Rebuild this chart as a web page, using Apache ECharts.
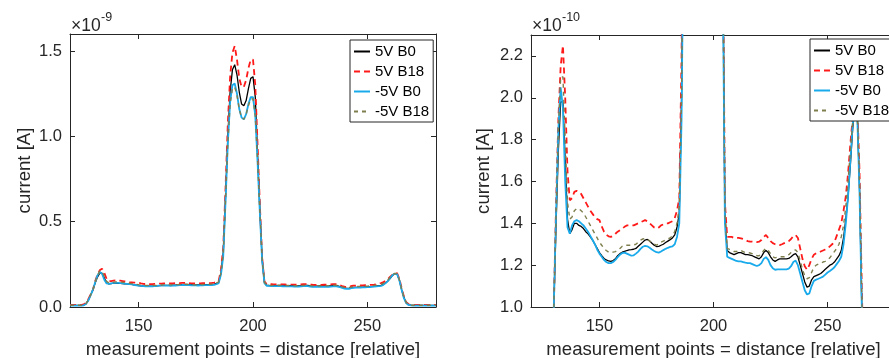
<!DOCTYPE html>
<html><head><meta charset="utf-8">
<script src="https://cdn.jsdelivr.net/npm/echarts@6/dist/echarts.min.js"></script>
<style>html,body{margin:0;padding:0;background:#fff}#c{width:889px;height:358px}</style>
</head><body><div id="c"></div>
<script>
// measurement point positions (relative distance)
const positions = [
 120,121,122,123,124,125,126,127,128,129,
 130,131,132,133,134,135,136,137,138,139,
 140,141,142,143,144,145,146,147,148,149,
 150,151,152,153,154,155,156,157,158,159,
 160,161,162,163,164,165,166,167,168,169,
 170,171,172,173,174,175,176,177,178,179,
 180,181,182,183,184,185,186,187,188,189,
 190,191,192,193,194,195,196,197,198,199,
 200,201,202,203,204,205,206,207,208,209,
 210,211,212,213,214,215,216,217,218,219,
 220,221,222,223,224,225,226,227,228,229,
 230,231,232,233,234,235,236,237,238,239,
 240,241,242,243,244,245,246,247,248,249,
 250,251,252,253,254,255,256,257,258,259,
 260,261,262,263,264,265,266,267,268,269,
 270,271,272,273,274,275,276,277,278,279,
 280];
// currents in units of 1e-10 A
const cur5VB0 = [
 0.10,0.10,0.10,0.10,0.10,0.10,0.12,0.20,0.40,0.70,
 1.00,1.40,1.75,1.98,1.98,1.70,1.42,1.35,1.37,1.40,
 1.40,1.39,1.385,1.375,1.36,1.35,1.335,1.32,1.30,1.28,
 1.26,1.245,1.232,1.225,1.22,1.218,1.222,1.23,1.245,1.255,
 1.262,1.266,1.27,1.273,1.274,1.276,1.28,1.29,1.30,1.31,
 1.32,1.323,1.315,1.305,1.295,1.289,1.29,1.295,1.30,1.308,
 1.315,1.322,1.33,1.345,1.38,1.45,2.0,3.2,6.5,10.0,
 12.6,13.9,14.2,13.6,12.6,11.9,11.8,12.1,12.8,13.4,
 13.5,12.3,9.0,5.8,2.8,1.45,1.27,1.26,1.255,1.25,
 1.255,1.26,1.26,1.255,1.25,1.25,1.248,1.245,1.24,1.235,
 1.23,1.24,1.26,1.27,1.26,1.24,1.225,1.218,1.225,1.23,
 1.23,1.23,1.23,1.232,1.24,1.25,1.255,1.24,1.20,1.16,
 1.12,1.095,1.10,1.13,1.145,1.15,1.155,1.16,1.17,1.18,
 1.19,1.20,1.205,1.215,1.23,1.245,1.27,1.33,1.42,1.53,
 1.68,1.85,1.96,1.93,1.58,1.00,0.55,0.25,0.14,0.11,
 0.10,0.10,0.10,0.10,0.10,0.10,0.10,0.10,0.10,0.10,
 0.10];
const cur5VB18 = [
 0.12,0.12,0.12,0.12,0.12,0.12,0.15,0.25,0.45,0.75,
 1.00,1.50,1.90,2.15,2.25,2.00,1.65,1.51,1.52,1.55,
 1.555,1.55,1.54,1.52,1.50,1.48,1.46,1.445,1.43,1.42,
 1.415,1.385,1.36,1.345,1.338,1.335,1.34,1.35,1.36,1.367,
 1.375,1.383,1.39,1.39,1.39,1.39,1.395,1.40,1.405,1.41,
 1.415,1.41,1.40,1.39,1.38,1.375,1.38,1.39,1.395,1.40,
 1.40,1.405,1.41,1.425,1.46,1.52,2.2,3.5,7.0,10.8,
 13.5,14.9,15.3,14.5,13.4,12.9,12.9,13.3,14.0,14.5,
 14.5,13.0,9.5,6.0,2.9,1.5,1.335,1.335,1.335,1.33,
 1.33,1.33,1.328,1.325,1.32,1.315,1.312,1.312,1.31,1.31,
 1.312,1.32,1.335,1.344,1.33,1.315,1.305,1.30,1.296,1.296,
 1.30,1.305,1.31,1.315,1.325,1.34,1.344,1.33,1.28,1.23,
 1.195,1.178,1.20,1.23,1.25,1.257,1.26,1.265,1.27,1.275,
 1.28,1.29,1.30,1.31,1.34,1.37,1.40,1.46,1.53,1.64,
 1.78,1.90,2.00,1.98,1.65,1.10,0.60,0.28,0.16,0.13,
 0.12,0.12,0.12,0.12,0.12,0.12,0.12,0.12,0.12,0.12,
 0.12];
const curM5VB0 = [
 0.08,0.08,0.08,0.08,0.08,0.08,0.10,0.18,0.38,0.68,
 1.00,1.45,1.85,2.05,1.95,1.60,1.38,1.35,1.39,1.41,
 1.415,1.41,1.40,1.39,1.375,1.36,1.34,1.32,1.30,1.275,
 1.255,1.24,1.225,1.215,1.21,1.21,1.215,1.225,1.238,1.25,
 1.258,1.26,1.255,1.25,1.245,1.247,1.255,1.265,1.278,1.288,
 1.292,1.29,1.283,1.275,1.268,1.262,1.26,1.265,1.272,1.278,
 1.283,1.287,1.29,1.30,1.335,1.40,1.9,3.0,6.2,9.6,
 12.0,13.0,13.1,12.5,11.6,11.1,11.0,11.3,11.9,12.3,
 12.3,11.2,8.5,5.5,2.7,1.4,1.24,1.235,1.23,1.225,
 1.22,1.218,1.218,1.215,1.212,1.21,1.21,1.205,1.20,1.196,
 1.20,1.21,1.23,1.238,1.225,1.20,1.185,1.178,1.18,1.18,
 1.18,1.18,1.18,1.183,1.195,1.215,1.222,1.20,1.16,1.12,
 1.08,1.06,1.065,1.10,1.125,1.131,1.135,1.14,1.145,1.155,
 1.165,1.172,1.18,1.19,1.205,1.22,1.24,1.30,1.40,1.53,
 1.70,1.87,1.95,1.92,1.55,1.00,0.50,0.22,0.12,0.09,
 0.08,0.08,0.08,0.08,0.08,0.08,0.08,0.08,0.08,0.08,
 0.08];
const curM5VB18 = [
 0.10,0.10,0.10,0.10,0.10,0.10,0.12,0.20,0.40,0.70,
 1.00,1.45,1.85,2.10,2.10,1.80,1.50,1.42,1.43,1.46,
 1.47,1.47,1.46,1.45,1.43,1.41,1.39,1.37,1.35,1.33,
 1.31,1.295,1.28,1.27,1.262,1.26,1.262,1.265,1.27,1.28,
 1.29,1.295,1.295,1.295,1.295,1.297,1.30,1.31,1.32,1.325,
 1.328,1.325,1.315,1.305,1.30,1.296,1.30,1.31,1.315,1.32,
 1.325,1.33,1.34,1.36,1.40,1.48,2.0,3.1,6.3,9.6,
 11.9,12.8,12.9,12.4,11.6,11.1,11.0,11.3,11.8,12.2,
 12.2,11.2,8.6,5.6,2.8,1.45,1.28,1.275,1.27,1.265,
 1.265,1.27,1.27,1.265,1.26,1.26,1.258,1.255,1.25,1.245,
 1.245,1.255,1.27,1.28,1.27,1.255,1.24,1.235,1.238,1.24,
 1.24,1.24,1.245,1.25,1.26,1.27,1.273,1.26,1.22,1.18,
 1.15,1.135,1.14,1.165,1.19,1.20,1.205,1.21,1.215,1.218,
 1.225,1.235,1.25,1.265,1.28,1.30,1.335,1.39,1.48,1.60,
 1.75,1.88,1.97,1.95,1.60,1.05,0.55,0.25,0.14,0.11,
 0.10,0.10,0.10,0.10,0.10,0.10,0.10,0.10,0.10,0.10,
 0.10];

const seriesNames = ['5V B0', '5V B18', '-5V B0', '-5V B18'];
const xTicks = [150, 200, 250];
// left axis ticks in 1e-10 A units, labelled in 1e-9 A
const leftYTicks = [0, 5, 10, 15];
const leftYTickLabels = ['0.0', '0.5', '1.0', '1.5'];
// right axis ticks in 1e-10 A units
const rightYTicks = [1.0, 1.2, 1.4, 1.6, 1.8, 2.0, 2.2];
const rightYTickLabels = ['1.0', '1.2', '1.4', '1.6', '1.8', '2.0', '2.2'];
const xLabel = 'measurement points = distance [relative]';
const yLabel = 'current [A]';

const FONT = "'Liberation Sans', Arial, Helvetica, sans-serif";
const AX = '#262626';
const seriesData = [cur5VB0, cur5VB18, curM5VB0, curM5VB18];
const styles = [
  { color: '#000000', width: 1.3, type: 'solid' },
  { color: '#ff1a1a', width: 1.8, type: [6, 4] },
  { color: '#19aaeb', width: 1.8, type: 'solid' },
  { color: '#7f7f4e', width: 1.4, type: [4, 4] }
];

function labelFor(ticks, labels, v) {
  let best = 0;
  ticks.forEach((t, i) => { if (Math.abs(t - v) < Math.abs(ticks[best] - v)) best = i; });
  return labels[best];
}

function xAx(grid, pos, main) {
  return {
    type: 'value', gridIndex: grid, position: pos, min: 120, max: 280,
    axisLine: { show: true, onZero: false, lineStyle: { color: AX, width: 1 } },
    axisTick: { show: true, inside: true, length: 5, customValues: xTicks, lineStyle: { color: AX } },
    axisLabel: { show: main, customValues: xTicks, margin: 11, fontSize: 16.5, color: AX, fontFamily: FONT },
    splitLine: { show: false },
    name: main ? xLabel : '', nameLocation: 'middle', nameGap: 33,
    nameTextStyle: { fontSize: 18.6, color: AX, fontFamily: FONT }
  };
}
function yAx(grid, pos, main, min, max, ticks, labels, gap) {
  return {
    type: 'value', gridIndex: grid, position: pos, min: min, max: max,
    axisLine: { show: true, onZero: false, lineStyle: { color: AX, width: 1 } },
    axisTick: { show: true, inside: true, length: 5, customValues: ticks, lineStyle: { color: AX } },
    axisLabel: { show: main, customValues: ticks, margin: 8, fontSize: 16.5, color: AX, fontFamily: FONT,
      formatter: v => labelFor(ticks, labels, v) },
    splitLine: { show: false },
    name: main ? yLabel : '', nameLocation: 'middle', nameGap: gap,
    nameTextStyle: { fontSize: 18.6, color: AX, fontFamily: FONT }
  };
}

const series = [];
[[0, 0], [2, 2]].forEach(([xi, yi]) => {
  seriesNames.forEach((n, k) => {
    series.push({
      name: n, type: 'line', xAxisIndex: xi, yAxisIndex: yi,
      showSymbol: false, symbol: 'none', clip: true, z: 2 + k,
      lineStyle: styles[k], itemStyle: { color: styles[k].color },
      data: positions.map((x, i) => [x, seriesData[k][i]])
    });
  });
});

function legendAt(left, top) {
  return {
    orient: 'vertical', left: left, top: top, itemWidth: 16, itemHeight: 12, itemGap: 5,
    padding: [4, 4, 3, 3], borderColor: AX, borderWidth: 1, backgroundColor: '#fff',
    selectedMode: false, z: 10,
    itemStyle: { opacity: 0 },
    textStyle: { fontSize: 15, color: '#000', fontFamily: FONT },
    data: seriesNames
  };
}

const chart = echarts.init(document.getElementById('c'), null, { renderer: 'canvas' });
chart.setOption({
  animation: false,
  backgroundColor: '#fff',
  grid: [
    { left: 70, top: 34, width: 366, height: 273, containLabel: false, outerBoundsMode: 'none' },
    { left: 531, top: 35, width: 365, height: 272, containLabel: false, outerBoundsMode: 'none' }
  ],
  xAxis: [xAx(0, 'bottom', true), xAx(0, 'top', false), xAx(1, 'bottom', true), xAx(1, 'top', false)],
  yAxis: [
    yAx(0, 'left', true, 0, 16, leftYTicks, leftYTickLabels, 36),
    yAx(0, 'right', false, 0, 16, leftYTicks, leftYTickLabels, 0),
    yAx(1, 'left', true, 1.0, 2.3, rightYTicks, rightYTickLabels, 38),
    yAx(1, 'right', false, 1.0, 2.3, rightYTicks, rightYTickLabels, 0)
  ],
  legend: [legendAt(350, 40), legendAt(810, 39)],
  graphic: [
    { type: 'text', left: 71, top: 17, style: { text: '×10', fontSize: 17.5, fill: AX, fontFamily: FONT } },
    { type: 'text', left: 101, top: 11, style: { text: '-9', fontSize: 12.5, fill: AX, fontFamily: FONT } },
    { type: 'text', left: 532, top: 17, style: { text: '×10', fontSize: 17.5, fill: AX, fontFamily: FONT } },
    { type: 'text', left: 562, top: 11, style: { text: '-10', fontSize: 12.5, fill: AX, fontFamily: FONT } }
  ],
  series: series
});
</script></body></html>
